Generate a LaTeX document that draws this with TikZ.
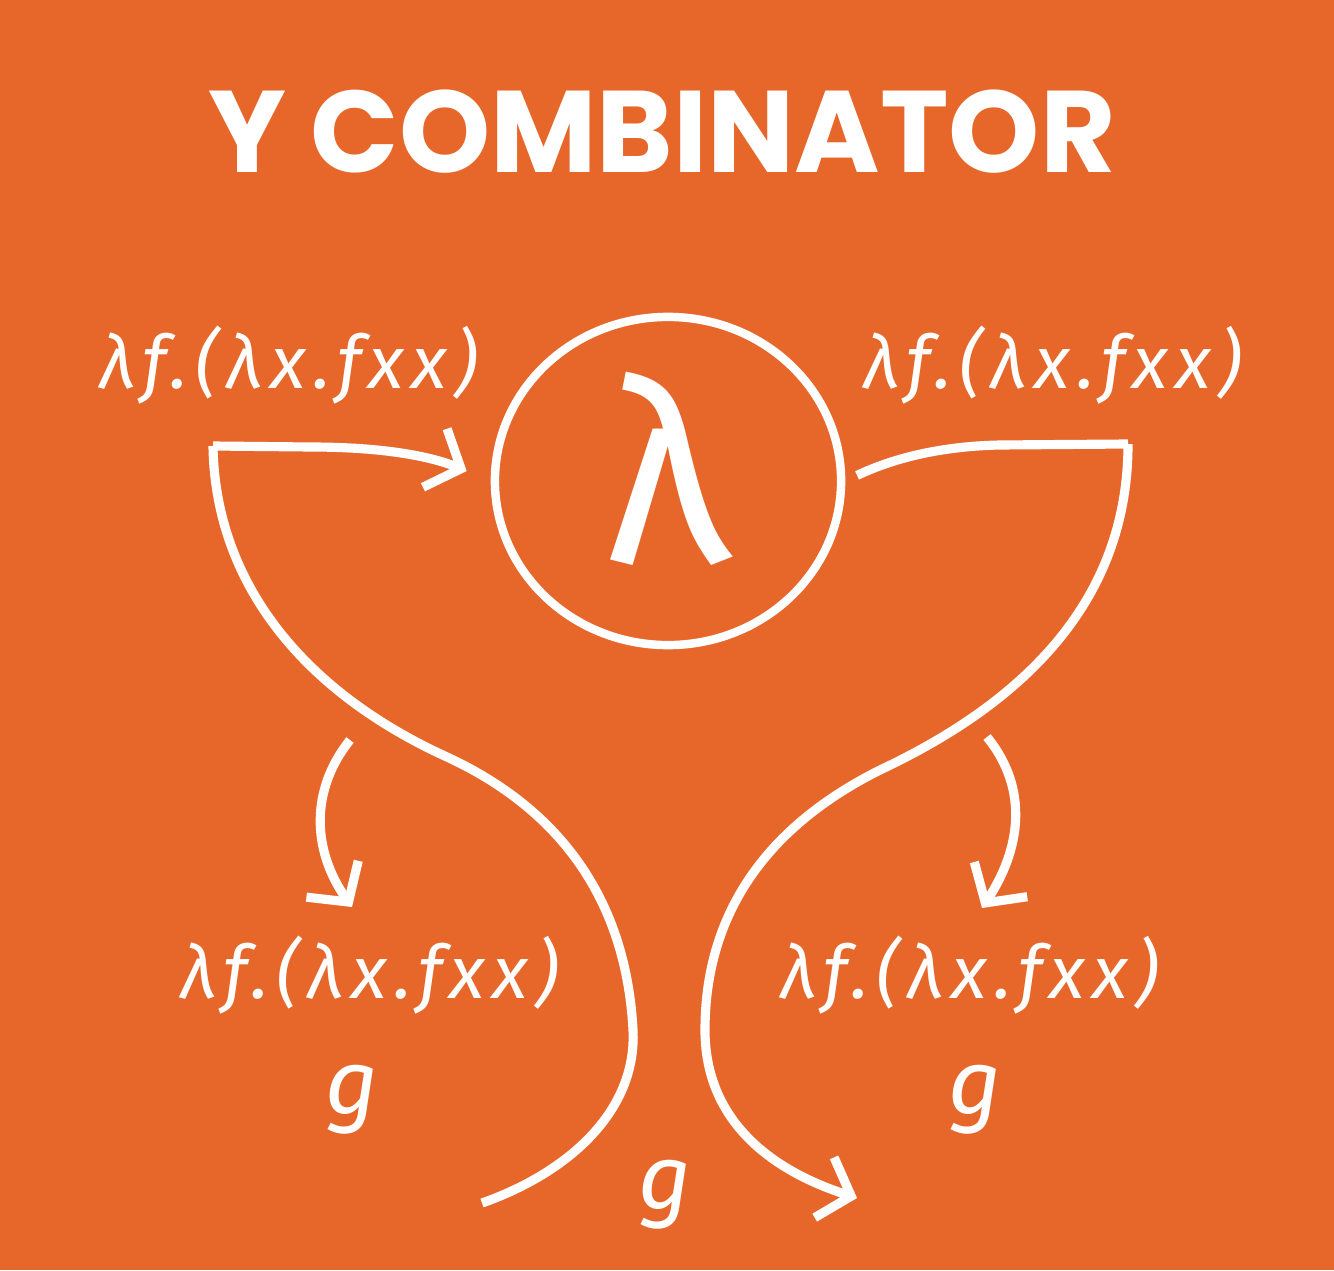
\documentclass[tikz,border=0pt]{standalone}
\usepackage{fontspec}
\setmainfont{Fira Sans}
\newfontfamily\titlefont{Poppins}
\usetikzlibrary{arrows.meta, positioning, shapes.geometric}
\definecolor{YC_Orange}{HTML}{E7672B}

\tikzset{
  stroke/.style={white, line width=2.6pt},
  barb/.style={stroke, -{Straight Barb[length=8pt, width=18pt]}},
  term/.style={text=white, inner sep=0pt,
    font=\fontsize{21}{21}\selectfont\itshape\addfontfeatures{LetterSpace=10}},
  var/.style={text=white, inner sep=0pt, font=\fontsize{26}{26}\selectfont\itshape},
}

\begin{document}
\begin{tikzpicture}[x=0.01cm, y=-0.01cm]
  \fill[YC_Orange] (0,0) rectangle (1334,1270);
  \useasboundingbox (0,0) rectangle (1334,1270);

  % title
  \node[text=white, font=\titlefont\fontsize{33}{33}\selectfont\bfseries] (title) at (662,132) {Y COMBINATOR};

  % centre lambda
  \node[draw=white, line width=2.4pt, ellipse, minimum width=3.46cm, minimum height=3.28cm,
        inner sep=0pt, text=white, font=\fontsize{72}{72}\selectfont] (lam) at (668,481) {\raisebox{8pt}{λ}};

  % terms
  \node[term] (termtl) at (289,365) {λf.(λx.fxx)};
  \node[term] (termtr) at (1053,365) {λf.(λx.fxx)};
  \node[term] (termbl) at (370,975) {λf.(λx.fxx)};
  \node[term] (termbr) at (970,975) {λf.(λx.fxx)};
  \node[var] (gl) at (352,1100) {g};
  \node[var] (gr) at (975,1100) {g};
  \node[var] (gb) at (665,1195) {g};

  % cup corners and ends
  \coordinate (cornerl) at (213,446);
  \coordinate (cornerr) at (1128,444);
  \coordinate (endl) at (482,1203);
  \coordinate (endr) at (857,1198);

  % top edges
  \draw[barb, shorten >=26*0.01cm] (cornerl) -- (310,447) .. controls (390,447) and (435,458) .. (lam.west);
  \draw[stroke, shorten <=13*0.01cm] (lam.east) .. controls (900,455) and (950,446) .. (1000,445) -- (cornerr);

  % left side of the cup
  \draw[stroke] (cornerl) .. controls (215,580) and (300,690) .. (447,757)
    .. controls (540,800) and (625,880) .. (633,1030)
    .. controls (637,1110) and (570,1172) .. (endl);

  % right side of the cup
  \draw[barb] (cornerr) .. controls (1128,580) and (1050,690) .. (880,770)
    .. controls (760,830) and (705,920) .. (705,1030)
    .. controls (705,1120) and (770,1170) .. (endr);

  % small arrows to the lower terms
  \coordinate (fromtl) at (350,740);
  \coordinate (totl) at (352,907);
  \coordinate (fromtr) at (987,737);
  \coordinate (totr) at (982,908);
  \draw[barb] (fromtl) .. controls (310,790) and (312,850) .. (totl);
  \draw[barb] (fromtr) .. controls (1030,790) and (1020,850) .. (totr);
\end{tikzpicture}
\end{document}
